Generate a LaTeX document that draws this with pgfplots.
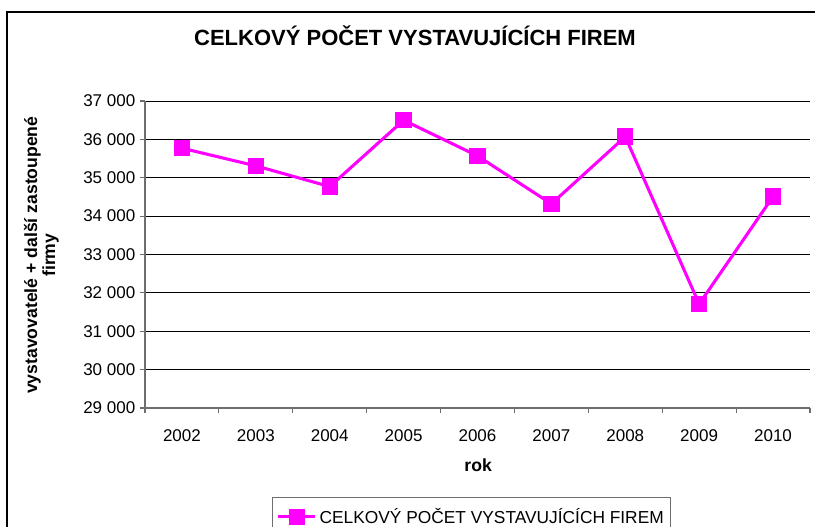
\documentclass[border=0pt]{standalone}
\usepackage{fontspec}
\setmainfont{Liberation Sans}
\usepackage{pgfplots}
\pgfplotsset{compat=1.18}
\definecolor{lineMag}{RGB}{255,0,255}
\definecolor{axisGray}{RGB}{110,110,110}

\begin{document}
\begin{tikzpicture}
% page = 815 x 526 px, 1 px = 0.75pt
\useasboundingbox (0,0) rectangle (611.25pt,-394.5pt);
\clip (0,0) rectangle (611.25pt,-394.5pt);
\fill[white] (0,0) rectangle (611.25pt,-394.5pt);
% chart frame (cut by the page at right and bottom)
\draw[black, line width=0.8pt] (5.25pt,-400pt) -- (5.25pt,-9pt) -- (615pt,-9pt);

\begin{axis}[
    at={(108.75pt,-306pt)}, anchor=south west,
    scale only axis,
    width=498.75pt, height=230.25pt,
    xmin=-0.5, xmax=8.5,
    ymin=29000, ymax=37000,
    ytick={29000,30000,...,37000},
    scaled y ticks=false,
    yticklabel style={/pgf/number format/.cd, fixed, precision=0, 1000 sep={\ }},
    xtick={0,...,8},
    xticklabels={2002,2003,2004,2005,2006,2007,2008,2009,2010},
    xticklabel style={yshift=-9pt},
    minor xtick={-0.5,0.5,...,8.5},
    major x tick style={draw=none},
    minor x tick style={draw=axisGray, line width=0.8pt},
    minor tick length=3.75pt,
    major tick length=3.75pt,
    tick align=outside,
    ytick style={draw=axisGray, line width=0.8pt},
    axis x line*=bottom, axis y line*=left,
    axis line style={axisGray, line width=0.8pt, -},
    ymajorgrids,
    major grid style={black, line width=0.6pt},
    /pgf/number format/assume math mode=true,
    tick label style={font=\fontsize{12.75}{15}\selectfont},
    title={CELKOVÝ POČET VYSTAVUJÍCÍCH FIREM},
    title style={at={(axis description cs:0.406,1.186)}, anchor=center,
        font=\fontsize{16.5}{19}\selectfont\bfseries},
    xlabel={rok},
    xlabel style={at={(axis description cs:0.501,-0.186)}, anchor=center,
        font=\fontsize{13.2}{15}\selectfont\bfseries},
    ylabel={vystavovatelé + další zastoupené\\firmy},
    ylabel style={at={(axis description cs:-0.156,0.498)}, anchor=center,
        align=center, font=\fontsize{13.2}{13.5}\selectfont\bfseries},
    legend style={at={(axis description cs:0.191,-0.29)}, anchor=north west,
        draw=axisGray, line width=0.8pt, font=\fontsize{13}{15}\selectfont,
        inner xsep=3pt, inner ysep=6pt},
    legend cell align=left,
    legend image code/.code={
        \draw[mark repeat=2, mark phase=2] plot coordinates {(0pt,0pt) (14pt,0pt) (28pt,0pt)};
    },
    clip=false,
]
\addplot[color=lineMag, line width=2.3pt, mark=square*, mark size=5pt,
    mark options={solid, fill=lineMag}] coordinates {
    (0,35770) (1,35310) (2,34770) (3,36500) (4,35570)
    (5,34320) (6,36070) (7,31710) (8,34510)
};
\addlegendentry{CELKOVÝ POČET VYSTAVUJÍCÍCH FIREM}
\end{axis}
\end{tikzpicture}
\end{document}
